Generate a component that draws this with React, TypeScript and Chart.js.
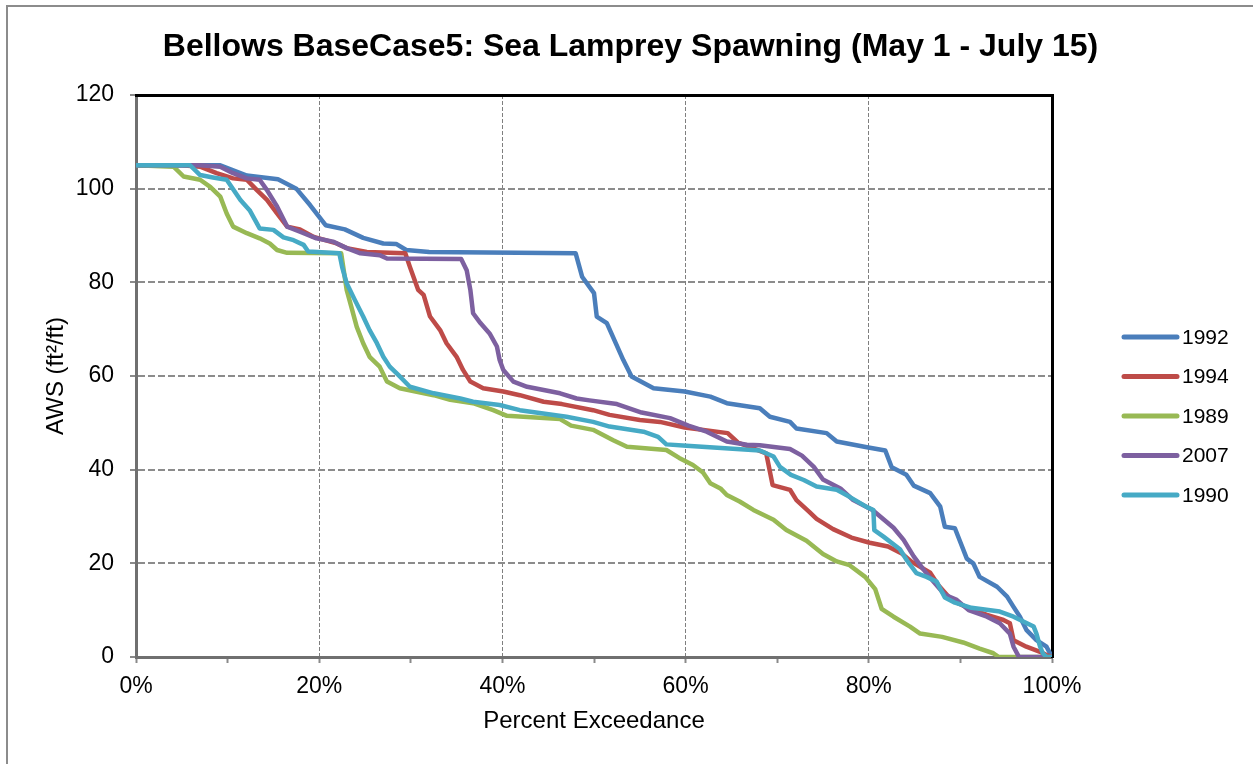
import React, { useEffect, useRef } from "react";
import { Chart, registerables } from "chart.js";

Chart.register(...registerables);

const chartTitle = "Bellows BaseCase5: Sea Lamprey Spawning (May 1 - July 15)";
const xAxisTitle = "Percent Exceedance";
const yAxisTitle = "AWS (ft\u00b2/ft)";

const seriesNames = ["1992", "1994", "1989", "2007", "1990"];
const seriesColors = ["#4A7EBB", "#BE4B48", "#98B954", "#7D60A0", "#46AAC5"];

const x1992 = [0, 9.2, 12.1, 15.5, 17.5, 19, 20.7, 22.8, 24.8, 27, 28.4, 29.5, 32, 48, 48.7, 50, 50.3, 51.4, 53.2, 54.1, 56.5, 59.9, 62.7, 64.5, 68.1, 69.2, 71.4, 72.1, 75.4, 76.5, 79.8, 81.8, 82.5, 84.1, 84.9, 86.7, 87.8, 88.3, 89.4, 90, 90.7, 91.4, 92.1, 94, 95.1, 95.8, 96.5, 97.2, 98.3, 99.4, 100];
const y1992 = [105, 105, 102.8, 102, 100, 96.5, 92.2, 91.3, 89.5, 88.3, 88.2, 86.9, 86.5, 86.2, 81.2, 77.7, 72.7, 71.3, 63.4, 59.9, 57.4, 56.7, 55.6, 54.2, 53.1, 51.3, 50.2, 48.8, 47.8, 46, 44.8, 44.1, 40.5, 38.9, 36.6, 35, 32.1, 27.8, 27.5, 24.5, 21, 20, 17.1, 15, 12.9, 10.7, 8.6, 5.8, 3.6, 2.2, 0];

const x1994 = [0, 5, 7, 8.8, 10.6, 12.1, 13.2, 14.3, 15.4, 16.5, 17.9, 19.4, 21.9, 23, 25.2, 29.4, 29.9, 30.8, 31.4, 32.1, 33.2, 33.9, 35, 35.7, 36.5, 37.9, 40.1, 41.9, 44.5, 46.5, 49.9, 51.7, 55, 57.2, 59.9, 64.6, 65.7, 68.8, 69.5, 71.4, 72.1, 73.5, 74.3, 76.1, 78.1, 80.1, 82.1, 83.6, 84.7, 86.7, 87.6, 89, 90.8, 92.9, 94.7, 95.4, 95.8, 97.2, 98.7, 99.4, 100];
const y1994 = [105, 105, 104.7, 103.3, 102.2, 101.9, 99.7, 97.6, 94.7, 91.9, 91.3, 89.7, 88.3, 87.3, 86.5, 86.2, 83.3, 78.4, 77.3, 72.7, 69.8, 67, 64.1, 61.3, 58.8, 57.4, 56.7, 55.9, 54.5, 54, 52.7, 51.7, 50.6, 50.2, 49, 47.8, 45.8, 43.5, 36.7, 35.7, 33.5, 31, 29.5, 27.3, 25.5, 24.4, 23.6, 22.1, 20.3, 18, 15.3, 12.2, 10.5, 9, 7.9, 7.2, 3.6, 2.2, 1.1, 0.4, 0];

const x1989 = [0, 4.1, 5.2, 7, 8.1, 9.2, 9.9, 10.6, 12.1, 13.5, 14.6, 15.4, 16.5, 22.4, 23, 23.5, 24.1, 24.8, 25.5, 26.6, 27.4, 28.8, 32.5, 34.3, 36.8, 39, 40.5, 46.3, 47.5, 49.9, 52.1, 53.6, 57.9, 59.3, 60.8, 61.9, 62.7, 63.8, 64.5, 65.9, 67.4, 69.6, 71, 73.2, 75, 76.5, 77.9, 79.6, 80.7, 81.4, 82.7, 84.5, 85.6, 88, 90.3, 92.1, 93.6, 94.2, 100];
const y1989 = [105, 104.7, 102.6, 101.9, 100.4, 98.3, 94.7, 91.9, 90.5, 89.4, 88.3, 86.9, 86.3, 86.2, 78.4, 74.8, 70.5, 67, 64.1, 62, 58.8, 57.4, 55.9, 54.9, 54.2, 52.7, 51.5, 50.8, 49.4, 48.5, 46.3, 44.9, 44.2, 42.5, 41, 39.4, 37.1, 36, 34.6, 33.2, 31.4, 29.3, 27.1, 24.8, 22, 20.4, 19.6, 17.1, 14.5, 10.3, 8.6, 6.5, 5, 4.3, 3.1, 1.8, 0.8, 0, 0];

const x2007 = [0, 7, 9.2, 10.6, 12.1, 13.5, 14.3, 15.4, 16.5, 17.9, 19.7, 21.5, 23, 24.5, 26.6, 27.4, 35.5, 36.1, 36.5, 36.8, 37.6, 38.6, 39.4, 39.7, 40.1, 41.2, 42.7, 46.3, 48.1, 49.5, 52.5, 55.2, 58.3, 60.3, 62.3, 64.5, 66.7, 68.1, 71.4, 72.7, 74, 75, 76.9, 78.3, 80.4, 82.7, 83.8, 84.9, 86, 87.1, 88.3, 89.6, 90.9, 92.9, 94.3, 95.4, 95.8, 96.4, 100];
const y2007 = [105, 105, 104.7, 103.3, 102.2, 101.9, 99.7, 96.2, 91.9, 90.8, 89.4, 88.7, 87.3, 86.2, 85.8, 85.1, 85, 82.6, 78.4, 73.4, 71.3, 69.1, 66.3, 63.4, 61.3, 58.8, 57.7, 56.3, 55.2, 54.8, 54, 52.2, 51, 49.4, 48.1, 46, 45.3, 45.2, 44.4, 43, 40.6, 37.9, 36, 33.5, 31.4, 27.6, 25, 21.5, 18.6, 16, 13.3, 12.2, 10, 8.6, 7.2, 5, 2.2, 0, 0];

const x1990 = [0, 5.9, 7, 8.4, 9.9, 11.4, 12.4, 13.2, 13.5, 15, 16.1, 17.2, 18.3, 18.8, 22.2, 22.5, 23, 23.9, 24.8, 25.5, 26.3, 27, 27.7, 28.8, 29.9, 32.5, 35.4, 36.8, 39.7, 41.9, 47, 49.9, 51.7, 55.4, 57, 57.9, 60.1, 68.1, 69.6, 70.3, 71.5, 72.9, 74.3, 76.5, 77.9, 79.8, 80.5, 80.6, 81.6, 83.4, 84.2, 85.2, 86.3, 87.4, 88.3, 89.4, 91.2, 94.3, 95.8, 98, 98.3, 98.7, 99, 99.4, 100];
const y1990 = [105, 105, 102.9, 102.4, 101.9, 97.6, 95.4, 92.6, 91.5, 91.2, 89.6, 89, 88, 86.6, 86.2, 83.3, 79.8, 76.2, 72.7, 69.8, 67, 64.1, 62, 59.9, 57.7, 56.3, 55.2, 54.5, 53.8, 52.7, 51.3, 50.2, 49.2, 48.1, 47, 45.4, 45.1, 44.1, 42.8, 40.6, 38.9, 37.8, 36.4, 35.7, 34.2, 32, 31.4, 27.1, 25.7, 23, 20.5, 17.9, 17.1, 16.1, 12.7, 11.6, 10.5, 9.7, 8.6, 6.5, 5, 2.2, 0.8, 0, 0];

const seriesX = [x1992, x1994, x1989, x2007, x1990];
const seriesY = [y1992, y1994, y1989, y2007, y1990];

const FONT = '"Liberation Sans", Arial, sans-serif';

const legendPlugin = {
  id: "sideLegend",
  afterDraw(chart: any) {
    const ctx = chart.ctx;
    const area = chart.chartArea;
    const x0 = area.right + 72;
    const x1 = x0 + 53;
    const yStart = 337;
    const gap = 39.5;
    chart.data.datasets.forEach((ds: any, i: number) => {
      const y = yStart + i * gap;
      ctx.save();
      ctx.strokeStyle = ds.borderColor;
      ctx.lineWidth = 5;
      ctx.lineCap = "round";
      ctx.beginPath();
      ctx.moveTo(x0, y);
      ctx.lineTo(x1, y);
      ctx.stroke();
      ctx.fillStyle = "#000";
      ctx.font = `21px ${FONT}`;
      ctx.textAlign = "left";
      ctx.textBaseline = "middle";
      ctx.fillText(ds.label, x1 + 5, y + 1);
      ctx.restore();
    });
  },
};

export default function App() {
  const canvasRef = useRef<HTMLCanvasElement | null>(null);

  useEffect(() => {
    const canvas = canvasRef.current;
    if (!canvas) return;
    const datasets = seriesNames.map((name, i) => ({
      label: name,
      data: seriesX[i].map((x, j) => ({ x, y: seriesY[i][j] })),
      borderColor: seriesColors[i],
      backgroundColor: seriesColors[i],
      borderWidth: 4.5,
      pointRadius: 0,
      tension: 0,
      fill: false,
      borderJoinStyle: "round" as const,
      borderCapStyle: "round" as const,
      order: seriesNames.length - i,
    }));

    const chart = new Chart(canvas, {
      type: "line",
      data: { datasets },
      plugins: [legendPlugin],
      options: {
        responsive: false,
        animation: false,
        devicePixelRatio: 1,
        layout: { padding: { left: 8, right: 0, top: 0, bottom: 0 } },
        plugins: {
          legend: { display: false },
          tooltip: { enabled: false },
          title: {
            display: true,
            text: chartTitle,
            color: "#000",
            font: { family: FONT, size: 32, weight: "bold" },
            padding: { top: 27.5, bottom: 29.1 },
          },
        },
        scales: {
          x: {
            type: "linear",
            position: "bottom",
            min: 0,
            max: 100,
            afterFit: (s: any) => {
              s.height = 107;
            },
            ticks: {
              stepSize: 10,
              autoSkip: false,
              maxRotation: 0,
              padding: 10,
              color: "#000",
              font: { family: FONT, size: 23 },
              callback: (v: any) => (Number(v) % 20 === 0 ? `${v}%` : ""),
            },
            grid: {
              color: (c: any) => {
                const v = c.tick ? c.tick.value : 0;
                return v % 20 === 0 && v !== 0 && v !== 100 ? "#7f7f7f" : "rgba(0,0,0,0)";
              },
              lineWidth: 1,
              tickColor: "#8a8a8a",
              tickLength: 6,
              tickWidth: 2,
            },
            border: { display: true, color: "#707070", width: 3, dash: [4, 2] },
            title: {
              display: true,
              text: xAxisTitle,
              color: "#000",
              font: { family: FONT, size: 24 },
              padding: { top: 0, bottom: 28.6 },
            },
          },
          y: {
            type: "linear",
            position: "left",
            min: 0,
            max: 120,
            afterFit: (s: any) => {
              s.width = 128;
            },
            ticks: {
              stepSize: 20,
              padding: 16,
              color: "#000",
              font: { family: FONT, size: 23 },
            },
            grid: {
              color: (c: any) => {
                const v = c.tick ? c.tick.value : 0;
                return v !== 0 && v !== 120 ? "#8c8c8c" : "rgba(0,0,0,0)";
              },
              lineWidth: 2,
              tickColor: "#8a8a8a",
              tickLength: 6,
              tickWidth: 2,
            },
            border: { display: true, color: "#707070", width: 3, dash: [7, 3] },
            title: {
              display: true,
              text: yAxisTitle,
              color: "#000",
              font: { family: FONT, size: 24 },
              padding: { top: 33.6, bottom: 0 },
            },
          },
          xTop: {
            type: "linear",
            position: "top",
            min: 0,
            max: 100,
            afterFit: (s: any) => {
              s.height = 0;
            },
            ticks: { display: false },
            grid: { display: false, drawTicks: false },
            border: { display: true, color: "#000", width: 3 },
          },
          yRight: {
            type: "linear",
            position: "right",
            min: 0,
            max: 120,
            afterFit: (s: any) => {
              s.width = 201;
            },
            ticks: { display: false },
            grid: { display: false, drawTicks: false },
            border: { display: true, color: "#000", width: 3 },
          },
        },
      } as any,
    });
    return () => chart.destroy();
  }, []);

  return (
    <div
      style={{
        position: "fixed",
        left: 0,
        top: 0,
        width: 1253,
        height: 764,
        overflow: "hidden",
        background: "#fff",
      }}
    >
      <div
        style={{
          position: "absolute",
          left: 6,
          top: 5,
          width: 1400,
          height: 900,
          border: "2px solid #8c8c8c",
        }}
      />
      <canvas
        ref={canvasRef}
        width={1253}
        height={764}
        style={{ position: "absolute", left: 0, top: 0, width: 1253, height: 764 }}
      />
    </div>
  );
}
